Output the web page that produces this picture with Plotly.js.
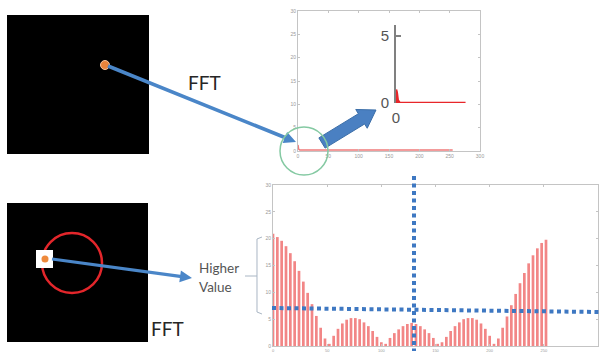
<!DOCTYPE html>
<html><head><meta charset="utf-8">
<script src="https://cdn.plot.ly/plotly-3.0.1.min.js"></script>
<style>html,body{margin:0;padding:0;background:#fff}#chart{width:601px;height:353px}</style>
</head><body><div id="chart"></div>
<script>
// ---- data ----
// top spectrum (single bright point -> energy only at DC)
const topBins = [0, 1, 3, 255];
const topMag  = [1.3, 0.4, 0.2, 0.2];
// zoomed inset of the top spectrum near the origin
const insetBins = [0, 0.05, 0.12, 0.25, 4.7];
const insetMag  = [1.0, 0.8, 0.2, 0.0, 0.0];
// bottom spectrum (small square -> sinc-like stems)
const bottomBins = [0,4,8,12,16,20,24,28,32,36,40,44,48,52,56,60,64,68,72,76,80,84,88,92,96,100,104,108,112,116,120,124,128,132,136,140,144,148,152,156,160,164,168,172,176,180,184,188,192,196,200,204,208,212,216,220,224,228,232,236,240,244,248,252];
const bottomMag = [20.9,20.3,19.6,18.6,17.3,15.8,14.0,12.0,9.9,7.8,5.6,3.4,1.4,
  0.4,1.9,3.2,4.2,4.9,5.2,5.2,5.0,4.4,3.7,2.8,1.7,0.7,
  0.4,1.5,2.4,3.1,3.7,4.1,4.3,4.1,3.7,3.1,2.4,1.5,0.4,
  0.7,1.7,2.8,3.7,4.4,5.0,5.2,5.2,4.9,4.2,3.2,1.9,0.4,
  1.4,3.4,5.5,7.6,9.7,11.7,13.6,15.4,16.9,18.2,19.2,19.8];
const plotTicksX = [0,50,100,150,200,250,300];
const plotTicksY = [0,5,10,15,20,25,30];
const labelFFT = "FFT";
const labelHigher = "Higher";
const labelValue = "Value";

// ---- layout helpers (pixel -> paper) ----
const W = 601, H = 353;
const X = px => px / W;
const Y = py => 1 - py / H;

function arrowPath(x0, y0, x1, y1, sh, hh, hl) {
  const dx = x1 - x0, dy = y1 - y0, L = Math.hypot(dx, dy);
  const ux = dx / L, uy = dy / L, nx = -uy, ny = ux;
  const bx = x1 - ux * hl, by = y1 - uy * hl;
  const pts = [[x0 + nx*sh, y0 + ny*sh], [bx + nx*sh, by + ny*sh], [bx + nx*hh, by + ny*hh],
               [x1, y1], [bx - nx*hh, by - ny*hh], [bx - nx*sh, by - ny*sh], [x0 - nx*sh, y0 - ny*sh]];
  return 'M' + pts.map(p => X(p[0]).toFixed(5) + ',' + Y(p[1]).toFixed(5)).join('L') + 'Z';
}
function pxPath(pts) {
  return 'M' + pts.map(p => X(p[0]).toFixed(5) + ',' + Y(p[1]).toFixed(5)).join('L');
}

const smallAxis = (domain, anchor, range, ticks, fs) => ({
  domain: domain, anchor: anchor, range: range, tickvals: ticks,
  showline: true, mirror: 'ticks', linecolor: '#c4c4c4', linewidth: 1,
  ticks: 'inside', ticklen: 2, tickcolor: '#c4c4c4', ticklabelstandoff: 0,
  tickfont: {size: fs || 5, color: '#9a9a9a', family: 'Liberation Sans'},
  showgrid: false, zeroline: false, fixedrange: true
});

const traces = [
  {type: 'scatter', mode: 'lines', x: topBins, y: topMag, xaxis: 'x', yaxis: 'y',
   line: {color: '#f07b7b', width: 1.5}, hoverinfo: 'skip'},
  {type: 'bar', x: bottomBins, y: bottomMag, xaxis: 'x2', yaxis: 'y2', width: 2.5,
   marker: {color: 'rgba(236,82,82,0.7)', line: {width: 0}}, hoverinfo: 'skip'},
  {type: 'scatter', mode: 'lines', x: insetBins, y: insetMag, xaxis: 'x3', yaxis: 'y3',
   fill: 'tozeroy', fillcolor: '#e8262a', line: {color: '#e8262a', width: 2.5}, hoverinfo: 'skip'}
];

const layout = {
  width: W, height: H, margin: {l: 0, r: 0, t: 0, b: 0, pad: 0},
  paper_bgcolor: '#ffffff', plot_bgcolor: 'rgba(0,0,0,0)', showlegend: false,
  xaxis: smallAxis([X(298), X(480)], 'y', [0, 300], plotTicksX),
  yaxis: smallAxis([Y(151), Y(11)], 'x', [0, 30], plotTicksY),
  xaxis2: smallAxis([X(273), X(598)], 'y2', [0, 300], plotTicksX, 4),
  yaxis2: smallAxis([Y(346), Y(185)], 'x2', [0, 30], plotTicksY),
  xaxis3: {domain: [X(396), X(470)], anchor: 'y3', range: [0, 5], tickvals: [0],
    showline: false, ticks: '', showgrid: false, zeroline: false, ticklabelstandoff: 4,
    tickfont: {size: 15, color: '#555', family: 'Liberation Sans'}},
  yaxis3: {domain: [Y(103), Y(25)], anchor: 'x3', range: [0, 5.82], tickvals: [0, 5],
    showline: true, linecolor: '#808080', linewidth: 2, ticks: 'inside', ticklen: 5,
    tickcolor: '#808080', tickwidth: 1.5, showgrid: false, zeroline: false, ticklabelstandoff: 2,
    tickfont: {size: 15, color: '#555', family: 'Liberation Sans'}},
  shapes: [
    {type: 'rect', xref: 'paper', yref: 'paper', x0: X(7), x1: X(149), y0: Y(154), y1: Y(15),
     fillcolor: '#000', line: {width: 0}},
    {type: 'rect', xref: 'paper', yref: 'paper', x0: X(7), x1: X(148), y0: Y(342), y1: Y(203),
     fillcolor: '#000', line: {width: 0}},
    {type: 'circle', xref: 'paper', yref: 'paper', x0: X(42), x1: X(102), y0: Y(293), y1: Y(233),
     line: {color: '#e3262b', width: 2.5}},
    {type: 'rect', xref: 'paper', yref: 'paper', x0: X(36), x1: X(53), y0: Y(268), y1: Y(250),
     fillcolor: '#ffffff', line: {width: 0}},
    {type: 'circle', xref: 'paper', yref: 'paper', x0: X(41.5), x1: X(48.5), y0: Y(262.5), y1: Y(255.5),
     fillcolor: '#ee8a3c', line: {width: 0}},
    {type: 'circle', xref: 'paper', yref: 'paper', x0: X(100.5), x1: X(109.5), y0: Y(69.5), y1: Y(60.5),
     fillcolor: '#e8843c', line: {color: '#f6c6a0', width: 1}},
    {type: 'path', xref: 'paper', yref: 'paper', path: arrowPath(108, 66, 296, 142, 1.8, 6, 12),
     fillcolor: '#4a86c8', line: {width: 0}},
    {type: 'path', xref: 'paper', yref: 'paper', path: arrowPath(52, 259, 192, 278, 1.6, 6, 12),
     fillcolor: '#4a86c8', line: {width: 0}},
    {type: 'path', xref: 'paper', yref: 'paper', path: arrowPath(322, 143, 376, 110, 6, 11, 17),
     fillcolor: '#4a80c2', line: {color: '#3b6ea8', width: 1}},
    {type: 'circle', xref: 'paper', yref: 'paper', x0: X(280), x1: X(328), y0: Y(175), y1: Y(127),
     line: {color: '#84c9a2', width: 1.5}},
    {type: 'path', xref: 'paper', yref: 'paper',
     path: pxPath([[262, 237], [257, 239], [257, 312], [262, 314]]), line: {color: '#a9b6c4', width: 1}},
    {type: 'path', xref: 'paper', yref: 'paper',
     path: pxPath([[245, 276], [257, 276]]), line: {color: '#a9b6c4', width: 1}},
    {type: 'line', xref: 'paper', yref: 'paper', x0: X(414), x1: X(414), y0: Y(176), y1: Y(351),
     line: {color: '#3e78c2', width: 4, dash: '4px,3.5px'}},
    {type: 'line', xref: 'paper', yref: 'paper', x0: X(272), x1: X(599), y0: Y(308), y1: Y(312),
     line: {color: '#3e78c2', width: 4, dash: '4px,3.5px'}}
  ],
  annotations: [
    {xref: 'paper', yref: 'paper', x: X(205), y: Y(82), text: labelFFT, showarrow: false,
     xanchor: 'center', yanchor: 'middle', font: {family: 'Lato', size: 19, color: '#262626'}},
    {xref: 'paper', yref: 'paper', x: X(168), y: Y(328), text: labelFFT, showarrow: false,
     xanchor: 'center', yanchor: 'middle', font: {family: 'Lato', size: 19, color: '#262626'}},
    {xref: 'paper', yref: 'paper', x: X(197), y: Y(268), text: labelHigher, showarrow: false,
     xanchor: 'left', yanchor: 'middle', font: {family: 'Lato', size: 13.5, color: '#555'}},
    {xref: 'paper', yref: 'paper', x: X(197), y: Y(287), text: labelValue, showarrow: false,
     xanchor: 'left', yanchor: 'middle', font: {family: 'Lato', size: 13.5, color: '#555'}}
  ]
};

Plotly.newPlot('chart', traces, layout, {staticPlot: true, displayModeBar: false});
</script>
</body></html>
